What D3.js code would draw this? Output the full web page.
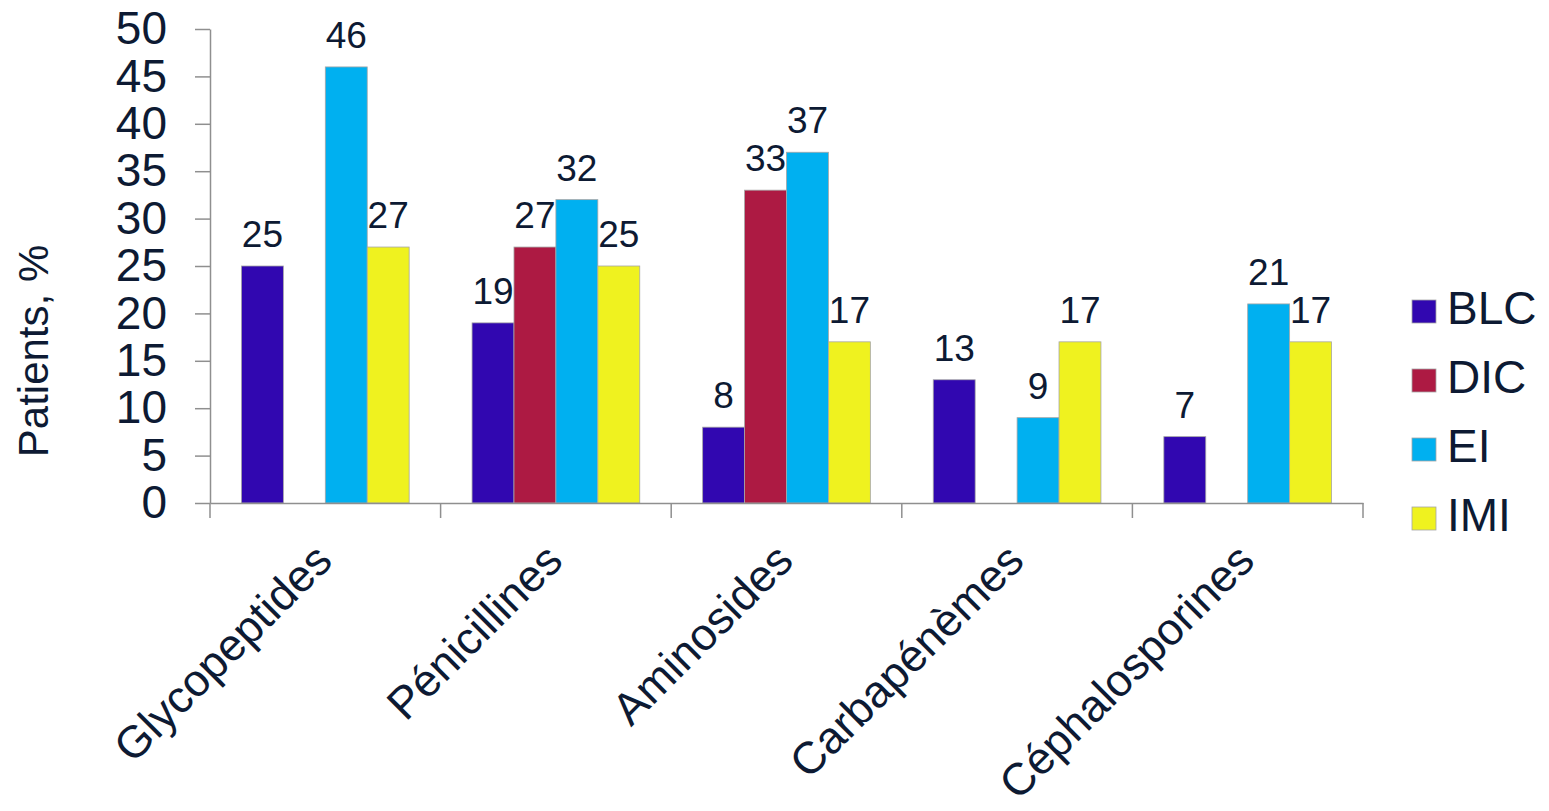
<!DOCTYPE html>
<html>
<head>
<meta charset="utf-8">
<script src="https://cdn.jsdelivr.net/npm/d3@7/dist/d3.min.js"></script>
<style>
  html, body { margin: 0; padding: 0; background: #ffffff; }
  svg { display: block; }
  text { font-family: Arial, "Liberation Sans", sans-serif; fill: #0d1a33; }
</style>
</head>
<body>
<svg id="chart" width="1549" height="811"></svg>
<script>
// Antibiotic classes (x categories)
const categories = ["Glycopeptides", "Pénicillines", "Aminosides", "Carbapénèmes", "Céphalosporines"];
// Patient groups (series)
const series = ["BLC", "DIC", "EI", "IMI"];
const seriesColors = ["#3107b0", "#ad1a43", "#00b0f0", "#eff21f"];
// Percent of patients per class, one array per group (null = no bar)
const valuesBLC = [25, 19, 8, 13, 7];
const valuesDIC = [null, 27, 33, null, null];
const valuesEI  = [46, 32, 37, 9, 21];
const valuesIMI = [27, 25, 17, 17, 17];
const yTicks = [0, 5, 10, 15, 20, 25, 30, 35, 40, 45, 50];
const yTitle = "Patients, %";

const allValues = [valuesBLC, valuesDIC, valuesEI, valuesIMI];

const svg = d3.select("#chart");
const plot = { left: 210, right: 1363, top: 29, bottom: 503 };

const x0 = d3.scaleBand().domain(categories).range([plot.left, plot.right]).padding(0);
const x1 = d3.scaleBand().domain(series).range([0, x0.bandwidth()]).paddingInner(0).paddingOuter(0.75);
const y = d3.scaleLinear().domain([0, 50]).range([plot.bottom, plot.top]);
const color = d3.scaleOrdinal().domain(series).range(seriesColors);

const axisColor = "#8f8f8f";

// Bars
const rows = [];
categories.forEach((c, ci) => {
  series.forEach((s, si) => {
    const v = allValues[si][ci];
    if (v !== null) rows.push({ cat: c, ser: s, value: v });
  });
});

svg.append("g").selectAll("rect").data(rows).join("rect")
  .attr("x", d => x0(d.cat) + x1(d.ser))
  .attr("y", d => y(d.value))
  .attr("width", x1.bandwidth())
  .attr("height", d => y(0) - y(d.value))
  .attr("fill", d => color(d.ser))
  .attr("stroke", "#a6a6a6")
  .attr("stroke-width", 0.8);

// Value labels above bars
svg.append("g").selectAll("text").data(rows).join("text")
  .attr("x", d => x0(d.cat) + x1(d.ser) + x1.bandwidth() / 2)
  .attr("y", d => y(d.value) - 19)
  .attr("text-anchor", "middle")
  .style("font-size", "37px")
  .text(d => d.value);

// Y axis
const yAxis = svg.append("g")
  .attr("transform", `translate(${plot.left},0)`)
  .call(d3.axisLeft(y).tickValues(yTicks).tickSize(15).tickPadding(28).tickSizeOuter(0));
yAxis.select(".domain").attr("stroke", axisColor).attr("stroke-width", 1.5);
yAxis.selectAll(".tick line").attr("stroke", axisColor).attr("stroke-width", 1.5);
yAxis.selectAll(".tick text").style("font-size", "46px").attr("fill", "#0d1a33")
  .style("font-family", "Arial, 'Liberation Sans', sans-serif");

// X axis line with ticks at category boundaries
const xAxis = svg.append("g")
  .attr("transform", `translate(0,${plot.bottom})`)
  .call(d3.axisBottom(x0).tickSize(0).tickFormat("").tickSizeOuter(0));
xAxis.select(".domain").attr("stroke", axisColor).attr("stroke-width", 1.5);

const boundaries = categories.map(c => x0(c)).concat([x0(categories[categories.length - 1]) + x0.bandwidth()]);
svg.append("g").selectAll("line").data(boundaries).join("line")
  .attr("x1", d => d).attr("x2", d => d)
  .attr("y1", plot.bottom).attr("y2", plot.bottom + 15)
  .attr("stroke", axisColor).attr("stroke-width", 1.5);

// Rotated category labels
svg.append("g").selectAll("text").data(categories).join("text")
  .attr("transform", c => `translate(${x0(c) + x0.bandwidth() / 2 + 9},${plot.bottom + 60}) rotate(-45)`)
  .attr("text-anchor", "end")
  .style("font-size", "45px")
  .text(c => c);

// Y axis title
svg.append("text")
  .attr("transform", "translate(48,351) rotate(-90)")
  .attr("text-anchor", "middle")
  .style("font-size", "42px")
  .text(yTitle);

// Legend
const legend = svg.append("g").attr("transform", "translate(1412,300)");
const item = legend.selectAll("g").data(series).join("g")
  .attr("transform", (d, i) => `translate(0,${i * 69})`);
item.append("rect")
  .attr("width", 24).attr("height", 23)
  .attr("fill", d => color(d))
  .attr("stroke", "#a6a6a6").attr("stroke-width", 0.8);
item.append("text")
  .attr("x", 35).attr("y", 24)
  .style("font-size", "46px")
  .text(d => d);
</script>
</body>
</html>
